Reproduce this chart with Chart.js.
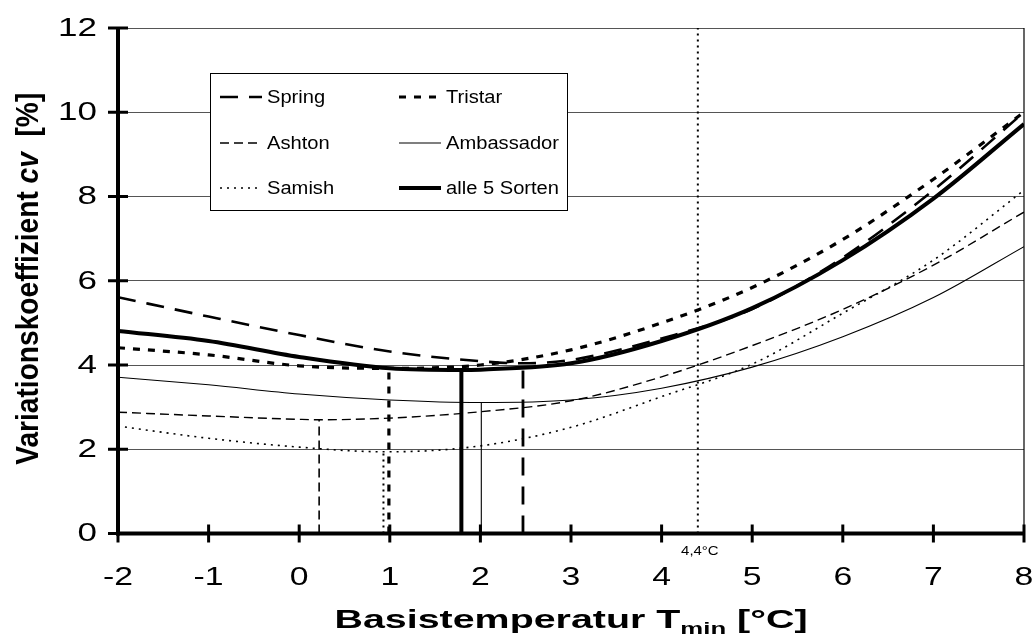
<!DOCTYPE html>
<html>
<head>
<meta charset="utf-8">
<script src="https://cdn.jsdelivr.net/npm/chart.js@4.4.1/dist/chart.umd.min.js"></script>
<style>
html,body{margin:0;padding:0;background:#fff;}
#wrap{width:1035px;height:639px;position:relative;}
</style>
</head>
<body>
<div id="wrap"><canvas id="c" width="1035" height="639"></canvas></div>
<script>
// ---- data ----
const xTickValues = [-2,-1,0,1,2,3,4,5,6,7,8];
const yTickValues = [0,2,4,6,8,10,12];
const tempX = [-2,-1,0,1,2,3,4,5,6,7,8];

const seriesNames = ['Spring','Tristar','Ashton','Ambassador','Samish','alle 5 Sorten'];
const spring     = [5.61,5.15,4.71,4.32,4.09,4.12,4.63,5.33,6.55,8.15,10.0];
const tristar    = [4.41,4.24,3.98,3.92,4.00,4.36,5.00,5.84,6.98,8.41,10.0];
const ashton     = [2.88,2.79,2.71,2.74,2.89,3.15,3.72,4.46,5.32,6.37,7.63];
const ambassador = [3.71,3.53,3.31,3.17,3.11,3.17,3.45,3.95,4.67,5.60,6.81];
const samish     = [2.55,2.26,2.05,1.94,2.08,2.52,3.25,4.02,5.23,6.49,8.15];
const alle       = [4.81,4.57,4.19,3.92,3.89,4.04,4.57,5.35,6.49,7.95,9.72];

// minimum of each curve (x = base temperature, y = cv)
const minX = [2.47, 0.99, 0.22, 2.01, 0.93, 1.79];
const minY = [4.04, 3.92, 2.70, 3.11, 1.94, 3.88];

const refTemp = 4.4;
const refLabel = '4,4°C';
const yMax = 12;

// ---- styles ----
const styles = [
  {w:2.6, dash:[18,11]},   // Spring
  {w:3.2, dash:[7,8]},     // Tristar
  {w:1.4, dash:[9,5]},     // Ashton
  {w:1.1, dash:[]},        // Ambassador
  {w:1.6, dash:[2,5]},     // Samish
  {w:4.0, dash:[]}         // alle
];
const vStyles = [
  {w:2.8, dash:[18,11]},
  {w:3.2, dash:[7,7]},
  {w:1.6, dash:[9,5]},
  {w:1.1, dash:[]},
  {w:2.0, dash:[2,4]},
  {w:4.0, dash:[]}
];
const allSeries = [spring, tristar, ashton, ambassador, samish, alle];

function curvePoints(vals, mx, my){
  const pts = tempX.map((x,i)=>({x:x, y:vals[i]}));
  if (!pts.some(p=>Math.abs(p.x-mx)<0.03)) pts.push({x:mx, y:my});
  pts.sort((a,b)=>a.x-b.x);
  return pts;
}

const datasets = [];
allSeries.forEach((vals,i)=>{
  datasets.push({
    label: seriesNames[i],
    data: curvePoints(vals, minX[i], minY[i]),
    borderColor:'#000', borderWidth:styles[i].w, borderDash:styles[i].dash,
    pointRadius:0, fill:false, cubicInterpolationMode:'monotone', borderCapStyle:'butt'
  });
});
allSeries.forEach((vals,i)=>{
  datasets.push({
    label: seriesNames[i]+' min',
    data:[{x:minX[i],y:0},{x:minX[i],y:minY[i]}],
    borderColor:'#000', borderWidth:vStyles[i].w, borderDash:vStyles[i].dash,
    pointRadius:0, fill:false, tension:0, borderCapStyle:'butt'
  });
});
datasets.push({
  label:'ref',
  data:[{x:refTemp,y:0},{x:refTemp,y:yMax}],
  borderColor:'#000', borderWidth:2, borderDash:[2,4], pointRadius:0, fill:false, tension:0
});

const FONT = '"Liberation Sans", Arial, sans-serif';

function stretchedText(ctx, txt, x, y, sx, align){
  const w = ctx.measureText(txt).width * sx;
  let left = x;
  if (align==='center') left = x - w/2;
  else if (align==='right') left = x - w;
  ctx.save();
  ctx.translate(left, y);
  ctx.scale(sx, 1);
  ctx.textAlign='left';
  ctx.fillText(txt, 0, 0);
  ctx.restore();
}

const decor = {
  id:'decor',
  afterDraw(chart){
    const ctx = chart.ctx, ca = chart.chartArea;
    const xs = chart.scales.x, ys = chart.scales.y;
    ctx.save();
    ctx.setLineDash([]);
    ctx.strokeStyle = '#000';
    // right border
    ctx.lineWidth = 1.2;
    ctx.beginPath(); ctx.moveTo(ca.right, ca.top); ctx.lineTo(ca.right, ca.bottom); ctx.stroke();
    // axes
    ctx.lineWidth = 4;
    ctx.beginPath(); ctx.moveTo(ca.left, ca.top-1); ctx.lineTo(ca.left, ca.bottom+2); ctx.stroke();
    ctx.beginPath(); ctx.moveTo(ca.left-2, ca.bottom); ctx.lineTo(ca.right, ca.bottom); ctx.stroke();
    // tick marks crossing axes
    ctx.lineWidth = 3;
    yTickValues.forEach(v=>{
      const y = ys.getPixelForValue(v);
      ctx.beginPath(); ctx.moveTo(ca.left-10, y); ctx.lineTo(ca.left+10, y); ctx.stroke();
    });
    xTickValues.forEach(v=>{
      const x = xs.getPixelForValue(v);
      ctx.beginPath(); ctx.moveTo(x, ca.bottom-9); ctx.lineTo(x, ca.bottom+9); ctx.stroke();
    });

    // tick labels
    ctx.fillStyle = '#000';
    ctx.font = '25px '+FONT;
    ctx.textBaseline = 'middle';
    yTickValues.forEach(v=>{
      stretchedText(ctx, String(v), ca.left-21, ys.getPixelForValue(v)+1, 1.4, 'right');
    });
    xTickValues.forEach(v=>{
      stretchedText(ctx, String(v), xs.getPixelForValue(v), 578, 1.35, 'center');
    });

    // reference label
    ctx.font = '13px '+FONT;
    stretchedText(ctx, refLabel, xs.getPixelForValue(refTemp)+2, ca.bottom+18, 1.15, 'center');

    // x title with subscript (stretched horizontally like the reference)
    ctx.textBaseline='alphabetic';
    const mainF = 'bold 26px '+FONT, subF = 'bold 17px '+FONT;
    const p1 = 'Basistemperatur T', p2 = 'min', p3 = ' [°C]';
    ctx.font = mainF; const w1 = ctx.measureText(p1).width, w3 = ctx.measureText(p3).width;
    ctx.font = subF; const w2 = ctx.measureText(p2).width;
    const targetW = 473;
    const sx = targetW/(w1+w2+w3);
    ctx.save();
    ctx.translate((ca.left+ca.right)/2 - targetW/2, 628);
    ctx.scale(sx,1);
    ctx.textAlign='left';
    ctx.font = mainF; ctx.fillText(p1, 0, 0);
    ctx.font = subF; ctx.fillText(p2, w1, 6);
    ctx.font = mainF; ctx.fillText(p3, w1+w2, 0);
    ctx.restore();

    // y title
    const q1='Variationskoeffizient ', q2='cv', q3='  [%]';
    const fB='bold 25px '+FONT, fBI='italic bold 25px '+FONT;
    ctx.font=fB; const v1=ctx.measureText(q1).width, v3=ctx.measureText(q3).width;
    ctx.font=fBI; const v2=ctx.measureText(q2).width;
    const targetL = 372;
    const sl = targetL/(v1+v2+v3);
    ctx.save();
    ctx.translate(38, (ca.top+ca.bottom)/2 - 2);
    ctx.rotate(-Math.PI/2);
    ctx.scale(sl, 1.25);
    ctx.textAlign='left';
    let s0 = -(v1+v2+v3)/2;
    ctx.font=fB; ctx.fillText(q1, s0, 0);
    ctx.font=fBI; ctx.fillText(q2, s0+v1, 0);
    ctx.font=fB; ctx.fillText(q3, s0+v1+v2, 0);
    ctx.restore();
    ctx.restore();

    // legend
    ctx.save();
    const bx=210, by0=73, bw=357, bh=137;
    ctx.fillStyle='#fff'; ctx.fillRect(bx,by0,bw,bh);
    ctx.strokeStyle='#000'; ctx.lineWidth=1; ctx.setLineDash([]);
    ctx.strokeRect(bx+0.5,by0+0.5,bw,bh);
    const rows=[97,143,188], cols=[[220,262],[399,441]];
    ctx.font='17.5px '+FONT; ctx.fillStyle='#000'; ctx.textBaseline='middle';
    seriesNames.forEach((name,k)=>{
      const r = Math.floor(k/2), c = k%2;
      const y = rows[r];
      ctx.lineWidth = styles[k].w; ctx.setLineDash(styles[k].dash);
      ctx.beginPath(); ctx.moveTo(cols[c][0], y); ctx.lineTo(cols[c][1], y); ctx.stroke();
      ctx.setLineDash([]);
      stretchedText(ctx, name, cols[c][1]+5, y+1, 1.15, 'left');
    });
    ctx.restore();
  }
};

new Chart(document.getElementById('c'), {
  type:'line',
  data:{datasets},
  options:{
    responsive:false, animation:false, devicePixelRatio:1,
    layout:{padding:{left:0,right:11,top:28,bottom:0}},
    plugins:{legend:{display:false}, tooltip:{enabled:false}},
    scales:{
      x:{type:'linear', min:-2, max:8,
        afterBuildTicks(s){ s.ticks = xTickValues.map(v=>({value:v})); },
        ticks:{display:false},
        grid:{display:false}, border:{display:false},
        afterFit(s){ s.height = 105.5; s.paddingLeft = 0; s.paddingRight = 0; }
      },
      y:{type:'linear', min:0, max:yMax,
        afterBuildTicks(s){ s.ticks = yTickValues.map(v=>({value:v})); },
        ticks:{display:false},
        grid:{color:'#555', lineWidth:1, drawTicks:false}, border:{display:false},
        afterFit(s){ s.width = 118; s.paddingTop = 0; s.paddingBottom = 0; }
      }
    }
  },
  plugins:[decor]
});
</script>
</body>
</html>
